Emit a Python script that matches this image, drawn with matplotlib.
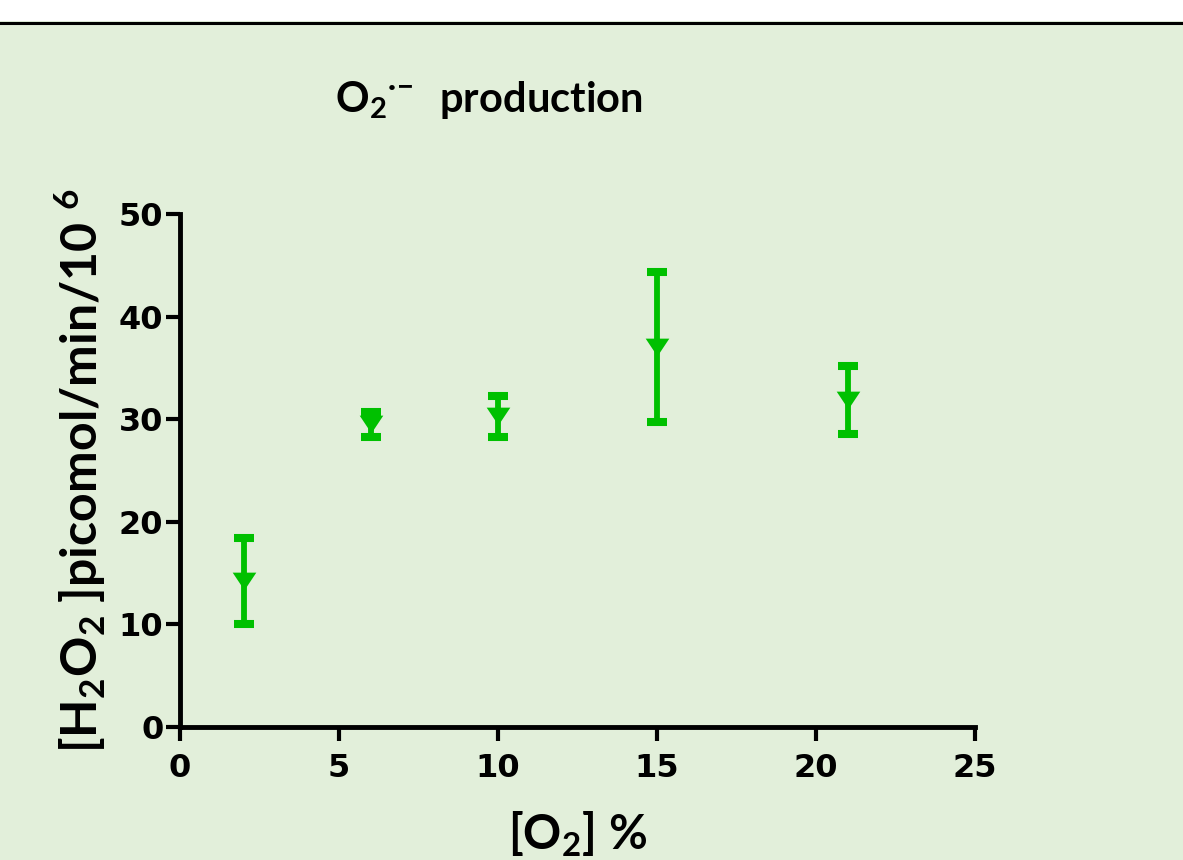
import numpy as np
from matplotlib import pyplot as plt
from matplotlib.lines import Line2D
from matplotlib.patches import Rectangle

# data
o2_pct = [2, 6, 10, 15, 21]
h2o2_mean = [14.2, 29.5, 30.3, 37.0, 31.9]
h2o2_err = [4.2, 1.2, 2.0, 7.3, 3.3]

x_ticks = [0, 5, 10, 15, 20, 25]
y_ticks = [0, 10, 20, 30, 40, 50]

bg = '#E2EFDA'
green = '#00C000'

plt.rcParams['mathtext.fontset'] = 'custom'
plt.rcParams['mathtext.rm'] = 'Lato:bold'
plt.rcParams['mathtext.bf'] = 'Lato:bold'
plt.rcParams['mathtext.it'] = 'Lato:bold'

fig = plt.figure(figsize=(11.83, 8.6), dpi=100, facecolor=bg)
ax = fig.add_axes([180/1183, 1 - 727/860, 795/1183, 513/860])
ax.set_facecolor(bg)

# white strip and black rule at the top
fig.add_artist(Rectangle((0, 1 - 21/860), 1, 21/860, transform=fig.transFigure,
                         facecolor='white', edgecolor='none'))
fig.add_artist(Line2D([0, 1], [1 - 22.5/860, 1 - 22.5/860], transform=fig.transFigure,
                      color='black', lw=2.2))

tri = [(-1, 0.75), (1, 0.75), (0, -0.75)]
ax.errorbar(o2_pct, h2o2_mean, yerr=h2o2_err, fmt='none', ecolor=green,
            elinewidth=4.2, capsize=7.5, capthick=5.8)
ax.plot(o2_pct, h2o2_mean, linestyle='none', marker=tri, markersize=17,
        color=green, markeredgewidth=0)

ax.set_xlim(0, 25)
ax.set_ylim(0, 50)
ax.set_xticks(x_ticks)
ax.set_yticks(y_ticks)

for s in ['top', 'right']:
    ax.spines[s].set_visible(False)
for s in ['left', 'bottom']:
    ax.spines[s].set_linewidth(3.5)
    ax.spines[s].set_capstyle('projecting')

ax.tick_params(direction='out', length=10, width=3, labelsize=23, color='black')
ax.tick_params(axis='x', pad=9)
ax.tick_params(axis='y', pad=2)
for lab in ax.get_xticklabels() + ax.get_yticklabels():
    lab.set_fontweight('heavy')
    lab.set_family('DejaVu Sans')

ax.set_xlabel(r'[O$_2$] %', fontsize=34, fontweight='bold', family='Lato', labelpad=18)
ax.set_ylabel(r'[H$_2$O$_2$ ]picomol/min/10 $^6$', fontsize=36, fontweight='bold',
              family='Lato', labelpad=8)

fig.text(489/1183, 1 - 100/860, r'O$_2$$^{\bullet\!-}$  production', fontsize=30,
         fontweight='bold', family='Lato', ha='center', va='center')

fig.savefig('out.png', dpi=100, facecolor=bg)
